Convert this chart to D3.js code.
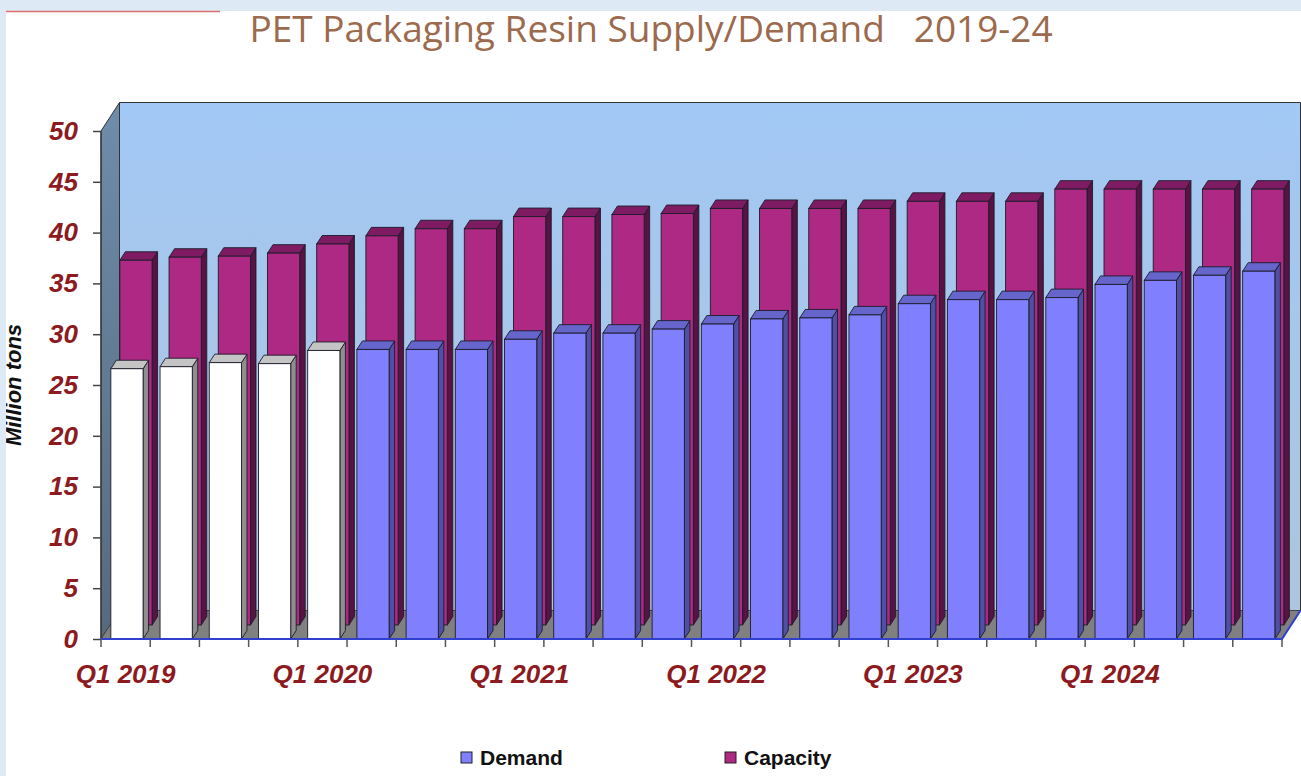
<!DOCTYPE html>
<html>
<head>
<meta charset="utf-8">
<script src="https://cdn.jsdelivr.net/npm/d3@7"></script>
<style>
  html, body { margin: 0; padding: 0; background: #dde9f5; }
  svg { display: block; }
</style>
</head>
<body>
<div id="chart"></div>
<script>
// PET packaging resin supply/demand, quarterly 2019-24 (million tons)
const quarters = [
  "Q1 2019", "Q2 2019", "Q3 2019", "Q4 2019",
  "Q1 2020", "Q2 2020", "Q3 2020", "Q4 2020",
  "Q1 2021", "Q2 2021", "Q3 2021", "Q4 2021",
  "Q1 2022", "Q2 2022", "Q3 2022", "Q4 2022",
  "Q1 2023", "Q2 2023", "Q3 2023", "Q4 2023",
  "Q1 2024", "Q2 2024", "Q3 2024", "Q4 2024"
];
const demand = [
  26.6, 26.8, 27.2, 27.1, 28.4, 28.5, 28.5, 28.5,
  29.5, 30.1, 30.1, 30.5, 31.0, 31.5, 31.6, 31.9,
  33.0, 33.4, 33.4, 33.6, 34.9, 35.3, 35.8, 36.2
];
const capacity = [
  35.9, 36.2, 36.3, 36.6, 37.5, 38.3, 39.0, 39.0,
  40.2, 40.2, 40.4, 40.5, 41.0, 41.0, 41.0, 41.0,
  41.7, 41.7, 41.7, 42.9, 42.9, 42.9, 42.9, 42.9
];
const actualCount = 5; // first quarters drawn as plain (white) columns
const yTicks = [0, 5, 10, 15, 20, 25, 30, 35, 40, 45, 50];
const title = "PET Packaging Resin Supply/Demand   2019-24";
const yTitle = "Million tons";
const seriesNames = ["Demand", "Capacity"];

const W = 1301, H = 776;
const svg = d3.select("#chart").append("svg").attr("width", W).attr("height", H);

// page frame
svg.append("rect").attr("width", W).attr("height", H).attr("fill", "#dde9f5");
svg.append("rect").attr("x", 6).attr("y", 11).attr("width", W - 6).attr("height", H - 11).attr("fill", "#fff");
svg.append("line").attr("x1", 6).attr("x2", 220).attr("y1", 11.5).attr("y2", 11.5)
  .attr("stroke", "#e07070").attr("stroke-width", 1.5);

const x = d3.scaleBand().domain(quarters).range([101, 1282]);
const y = d3.scaleLinear().domain([0, 50]).range([639, 131]);
const bw = x.bandwidth();

// oblique 3D projection
const wallD = { dx: 18.5, dy: -28.5 };
const barD = { dx: 5.5, dy: -8.5 };
const rowOff = [{ dx: 0, dy: 0 }, { dx: 9, dy: -14 }]; // demand row, capacity row

const defs = svg.append("defs");
const wallGrad = defs.append("linearGradient").attr("id", "wallGrad")
  .attr("x1", 0).attr("y1", 0).attr("x2", 0).attr("y2", 1);
wallGrad.append("stop").attr("offset", "0%").attr("stop-color", "#a2c8f5");
wallGrad.append("stop").attr("offset", "100%").attr("stop-color", "#aec5dc");
const sideGrad = defs.append("linearGradient").attr("id", "sideGrad")
  .attr("x1", 0).attr("y1", 0).attr("x2", 0).attr("y2", 1);
sideGrad.append("stop").attr("offset", "0%").attr("stop-color", "#6f8cab");
sideGrad.append("stop").attr("offset", "100%").attr("stop-color", "#566a7e");

const poly = (pts) => "M" + pts.map(p => p.join(",")).join("L") + "Z";
const x0 = x.range()[0], x1 = x.range()[1];
const yTop = y(50), yBase = y(0);

const frame = svg.append("g");
// back wall
frame.append("path")
  .attr("d", poly([[x0 + wallD.dx, yTop + wallD.dy], [x1 + wallD.dx, yTop + wallD.dy],
                   [x1 + wallD.dx, yBase + wallD.dy], [x0 + wallD.dx, yBase + wallD.dy]]))
  .attr("fill", "url(#wallGrad)").attr("stroke", "#333").attr("stroke-width", 1);
// left side wall
frame.append("path")
  .attr("d", poly([[x0, yTop], [x0 + wallD.dx, yTop + wallD.dy],
                   [x0 + wallD.dx, yBase + wallD.dy], [x0, yBase]]))
  .attr("fill", "url(#sideGrad)").attr("stroke", "#333").attr("stroke-width", 1);
// floor
frame.append("path")
  .attr("d", poly([[x0, yBase], [x0 + wallD.dx, yBase + wallD.dy],
                   [x1 + wallD.dx, yBase + wallD.dy], [x1, yBase]]))
  .attr("fill", "#808080").attr("stroke", "#444").attr("stroke-width", 1);

const colors = {
  capacity: { front: "#ae2983", top: "#7f1b63", side: "#581244" },
  demand: { front: "#8080ff", top: "#6565cc", side: "#4f4fa6" },
  actual: { front: "#ffffff", top: "#c4c4c4", side: "#8e8e8e" }
};

function drawBox(g, xf, wf, value, off, c) {
  const xl = xf + off.dx, xr = xl + wf;
  const yb = yBase + off.dy, yt = y(value) + off.dy;
  const stroke = "#1c1c2a";
  g.append("path")
    .attr("d", poly([[xr, yt], [xr + barD.dx, yt + barD.dy], [xr + barD.dx, yb + barD.dy], [xr, yb]]))
    .attr("fill", c.side).attr("stroke", stroke).attr("stroke-width", 0.9);
  g.append("path")
    .attr("d", poly([[xl, yt], [xr, yt], [xr + barD.dx, yt + barD.dy], [xl + barD.dx, yt + barD.dy]]))
    .attr("fill", c.top).attr("stroke", stroke).attr("stroke-width", 0.9);
  g.append("rect")
    .attr("x", xl).attr("y", yt).attr("width", wf).attr("height", yb - yt)
    .attr("fill", c.front).attr("stroke", stroke).attr("stroke-width", 0.9);
}

const frontPad = bw * 0.2, frontW = bw * 0.655;
const capG = svg.append("g").attr("class", "capacity");
quarters.forEach((q, i) => drawBox(capG, x(q) + frontPad, frontW, capacity[i], rowOff[1], colors.capacity));
const demG = svg.append("g").attr("class", "demand");
quarters.forEach((q, i) => drawBox(demG, x(q) + frontPad, frontW, demand[i], rowOff[0],
  i < actualCount ? colors.actual : colors.demand));

// front edges
svg.append("line").attr("x1", x0).attr("x2", x0).attr("y1", yTop).attr("y2", yBase)
  .attr("stroke", "#333").attr("stroke-width", 1.2);
svg.append("path")
  .attr("d", `M${x0},${yBase}L${x1},${yBase}L${x1 + wallD.dx},${yBase + wallD.dy}`)
  .attr("fill", "none").attr("stroke", "#2f3fd0").attr("stroke-width", 2);

// y axis
const yAxis = svg.append("g").attr("transform", `translate(${x0},0)`)
  .call(d3.axisLeft(y).tickValues(yTicks).tickSize(8).tickPadding(15));
yAxis.select(".domain").remove();
yAxis.selectAll(".tick line").attr("stroke", "#444").attr("stroke-width", 1.5);
yAxis.selectAll(".tick text")
  .attr("fill", "#8c1a1e").style("font", "italic bold 26px 'Liberation Sans', Arial, sans-serif");

// x axis: ticks at band edges, labels on first quarter of each year
const edges = quarters.map(q => x(q)).concat([x1]);
svg.append("g").selectAll("line").data(edges).join("line")
  .attr("x1", d => d).attr("x2", d => d).attr("y1", yBase).attr("y2", yBase + 8)
  .attr("stroke", "#555").attr("stroke-width", 1.5);
svg.append("g").selectAll("text").data(quarters.filter(q => q.startsWith("Q1"))).join("text")
  .attr("x", d => x(d) + bw / 2).attr("y", 683)
  .attr("text-anchor", "middle").attr("fill", "#8c1a1e")
  .style("font", "italic bold 26px 'Liberation Sans', Arial, sans-serif")
  .text(d => d);

// y title (partly clipped by the page edge)
svg.append("text")
  .attr("transform", "translate(21,385) rotate(-90)")
  .attr("text-anchor", "middle").attr("fill", "#111")
  .style("font", "italic bold 22px 'Liberation Sans', Arial, sans-serif")
  .text(yTitle);
svg.append("rect").attr("x", 0).attr("y", 0).attr("width", 6).attr("height", H).attr("fill", "#dde9f5");

// title
const t = svg.append("text").attr("x", 651).attr("y", 42).attr("text-anchor", "middle")
  .attr("fill", "#9c6a4d").attr("xml:space", "preserve")
  .style("white-space", "pre")
  .style("font", "34px 'Open Sans', 'Noto Sans', sans-serif")
  .text(title);
const tw = t.node().getComputedTextLength();
t.style("font-size", (34 * 804 / tw).toFixed(1) + "px");

// legend
const legend = svg.append("g");
const legX = [461, 725];
seriesNames.forEach((name, i) => {
  const c = i === 0 ? colors.demand : colors.capacity;
  legend.append("rect").attr("x", legX[i]).attr("y", 752).attr("width", 11).attr("height", 11)
    .attr("fill", c.front).attr("stroke", "#222").attr("stroke-width", 1);
  legend.append("text").attr("x", legX[i] + 19).attr("y", 765)
    .attr("fill", "#111").style("font", "bold 21px 'Liberation Sans', Arial, sans-serif")
    .text(name);
});
</script>
</body>
</html>
